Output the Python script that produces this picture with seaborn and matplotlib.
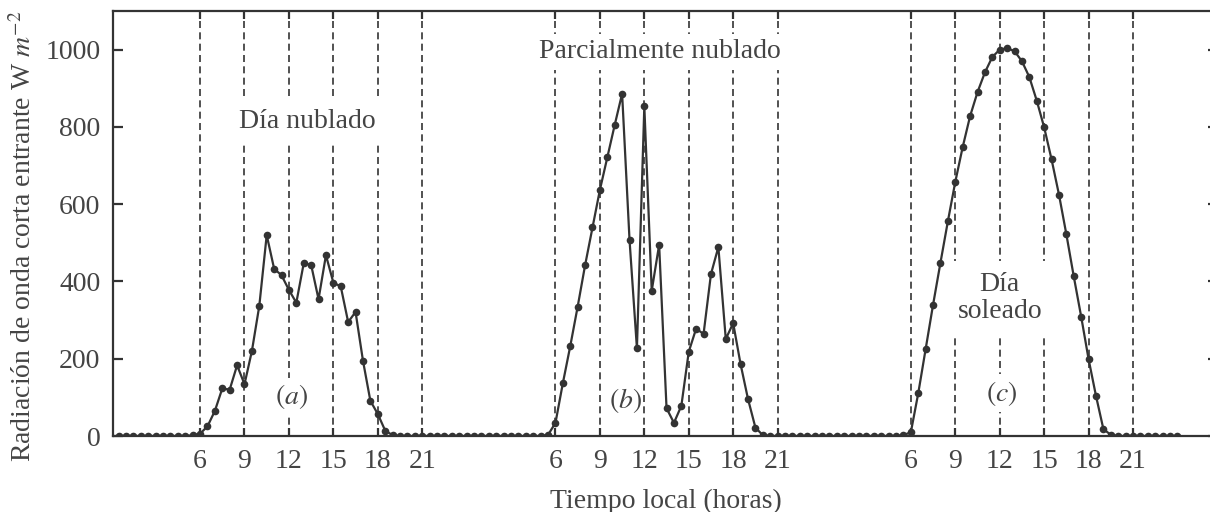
import numpy as np
import pandas as pd
import matplotlib
matplotlib.use("Agg")
import matplotlib.pyplot as plt
import seaborn as sns

#################
# data (W m^-2) #
#################

# half-hourly samples, 0.5 h .. 24 h for each day
hours = [h / 2 for h in range(1, 49)]

# (a) dia nublado
cloudy = [0] * 10 + [2, 6, 25, 65, 123, 120, 183, 134, 220, 337, 520, 433, 416, 378,
                     345, 447, 443, 354, 468, 397, 387, 295, 321, 195, 91, 57, 14, 2] + [0] * 10
# (b) parcialmente nublado
partly = [0] * 10 + [3, 34, 137, 233, 335, 442, 540, 637, 721, 805, 886, 508, 227, 853,
                     376, 495, 72, 34, 78, 218, 278, 264, 419, 489, 251, 292, 186, 96,
                     22, 2] + [0] * 8
# (c) dia soleado
sunny = [0] * 10 + [2, 10, 111, 225, 340, 449, 556, 658, 748, 828, 890, 941, 981, 1000,
                    1004, 996, 970, 929, 868, 799, 716, 625, 522, 413, 309, 199, 104, 18,
                    3] + [0] * 9

day_offsets = [0, 24, 48]
tick_hours = [6, 9, 12, 15, 18, 21]
ytick_vals = [0, 200, 400, 600, 800, 1000]

# stitch the three days on one continuous time axis
df = pd.DataFrame({
    "t": [d + h for d in day_offsets for h in hours],
    "rad": cloudy + partly + sunny,
})

##########
# layout #
##########

sns.set_style("ticks")
plt.rcParams["font.family"] = ["Liberation Serif", "DejaVu Serif"]
plt.rcParams["mathtext.fontset"] = "stix"
plt.rcParams["axes.linewidth"] = 1.6

ink = "#333333"
txt = "#444444"
fs = 20

fig = plt.figure(figsize=(12.1, 5.12), dpi=100)
ax = fig.add_axes([113 / 1210, 76 / 512, 1105 / 1210, 425 / 512])

# dashed guide at every labelled hour
xticks = [d + h for d in day_offsets for h in tick_hours]
for x in xticks:
    ax.axvline(x, color=ink, lw=1.2, ls=(0, (4.2, 2.6)), zorder=1)

sns.lineplot(data=df, x="t", y="rad", ax=ax, color=ink, lw=1.6, marker="o",
             markersize=5.5, markeredgewidth=0, estimator=None, sort=False, zorder=4)

ax.set_xlim(0.12, 74.74)
ax.set_ylim(0, 1100)
ax.set_xticks(xticks)
ax.set_xticklabels([str(h) for h in tick_hours] * 3)
ax.set_yticks(ytick_vals)
ax.tick_params(axis="x", direction="in", top=True, length=6, width=1.6, pad=9,
               labelsize=fs, colors=ink, labelcolor=txt)
ax.tick_params(axis="y", direction="in", right=True, length=7, width=1.6, pad=9,
               labelsize=fs, colors=ink, labelcolor=txt)
for s in ax.spines.values():
    s.set_color(ink)

ax.set_xlabel("Tiempo local (horas)", fontsize=fs, color=txt)
ax.set_ylabel(r"Radiación de onda corta entrante W $m^{-2}$", fontsize=fs, color=txt)
ax.xaxis.set_label_coords(0.5, -0.125)
ax.yaxis.set_label_coords(-0.069, 0.47)

# annotations, white boxes hide the guides behind them
box = dict(facecolor="white", edgecolor="none")
ax.text(13.23, 815, "Día nublado", fontsize=fs, color=txt, ha="center", va="center",
        bbox=dict(box, pad=6), zorder=3)
ax.text(37.03, 994, "Parcialmente nublado", fontsize=fs, color=txt, ha="center",
        va="center", bbox=dict(box, pad=4), zorder=3)
ax.text(60.0, 357, "Día\nsoleado", fontsize=fs, color=txt, ha="center", va="center",
        linespacing=1.1, bbox=dict(box, pad=8), zorder=3)
ax.text(12.2, 101, r"$(a)$", fontsize=fs, color=txt, ha="center", va="center",
        bbox=dict(box, pad=3), zorder=3)
ax.text(34.73, 93, r"$(b)$", fontsize=fs, color=txt, ha="center", va="center", zorder=3)
ax.text(60.15, 111, r"$(c)$", fontsize=fs, color=txt, ha="center", va="center",
        bbox=dict(box, pad=3), zorder=3)

fig.savefig("out.png", dpi=100)
